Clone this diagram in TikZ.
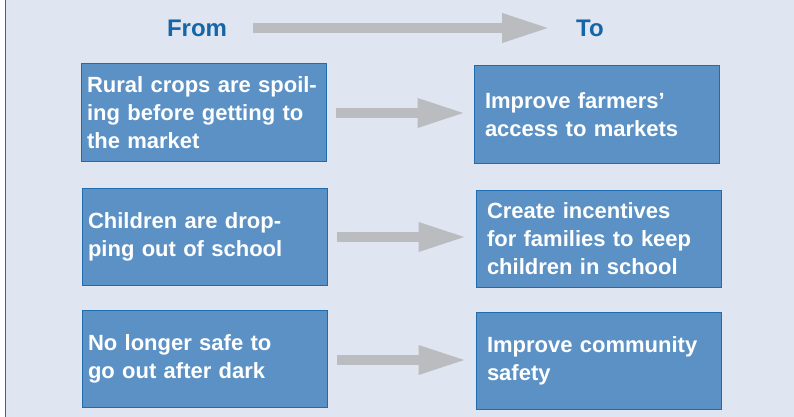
\documentclass[tikz,border=0pt]{standalone}
\usepackage{fontspec}
\setmainfont{Liberation Sans}
\usetikzlibrary{arrows.meta}
\definecolor{bgblue}{HTML}{DFE6F1}
\definecolor{boxfill}{HTML}{5B91C4}
\definecolor{boxline}{HTML}{1F6CAE}
\definecolor{titleblue}{HTML}{1565A7}
\definecolor{arrowgray}{HTML}{BBBCBF}
\tikzset{
  box/.style={draw=boxline, line width=1pt, fill=boxfill, text=white,
    font=\bfseries\fontsize{22}{28}\selectfont, align=left,
    minimum width=245pt, minimum height=97pt, inner ysep=0pt},
  lbox/.style={box, inner xsep=6pt, text width=233pt},
  rbox/.style={box, inner xsep=11pt, text width=223pt},
  title/.style={text=titleblue, font=\bfseries\fontsize{24}{28}\selectfont, inner sep=0pt},
  bigarrow/.style={draw=arrowgray, line width=10.5pt,
    -{Triangle[length=49pt, width=26.5pt]}},
}
\begin{document}
\begin{tikzpicture}[x=1pt, y=-1pt]
  \useasboundingbox (0,0) rectangle (794,417);
  \fill[white] (0,0) rectangle (794,417);
  \fill[bgblue] (5,0) rectangle (794,417);
  \draw[boxline, line width=1.5pt] (5.5,0) -- (5.5,417);

  \node[title] (from) at (197,28) {From};
  \node[title] (to) at (590,28) {To};
  \draw[bigarrow] ([xshift=26pt]from.east) -- ([xshift=-25pt]to.west);

  \node[lbox] (l1) at (203.5,112.5) {Rural crops are spoil-\\ing before getting to\\the market};
  \node[rbox] (r1) at (596.5,114.5) {Improve farmers’\\access to markets};
  \node[lbox] (l2) at (204.5,236.5) {Children are drop-\\ping out of school};
  \node[rbox] (r2) at (598.5,238.5) {Create incentives\\for families to keep\\children in school};
  \node[lbox] (l3) at (204.5,359) {No longer safe to\\go out after dark};
  \node[rbox] (r3) at (598.5,360.5) {Improve community\\safety};

  \draw[bigarrow] ([xshift=9pt]l1.east |- 0,113) -- ([xshift=-7pt]r1.west |- 0,113);
  \draw[bigarrow] ([xshift=9pt]l2.east |- 0,237) -- ([xshift=-8pt]r2.west |- 0,237);
  \draw[bigarrow] ([xshift=9pt]l3.east |- 0,360) -- ([xshift=-8pt]r3.west |- 0,360);
\end{tikzpicture}
\end{document}
